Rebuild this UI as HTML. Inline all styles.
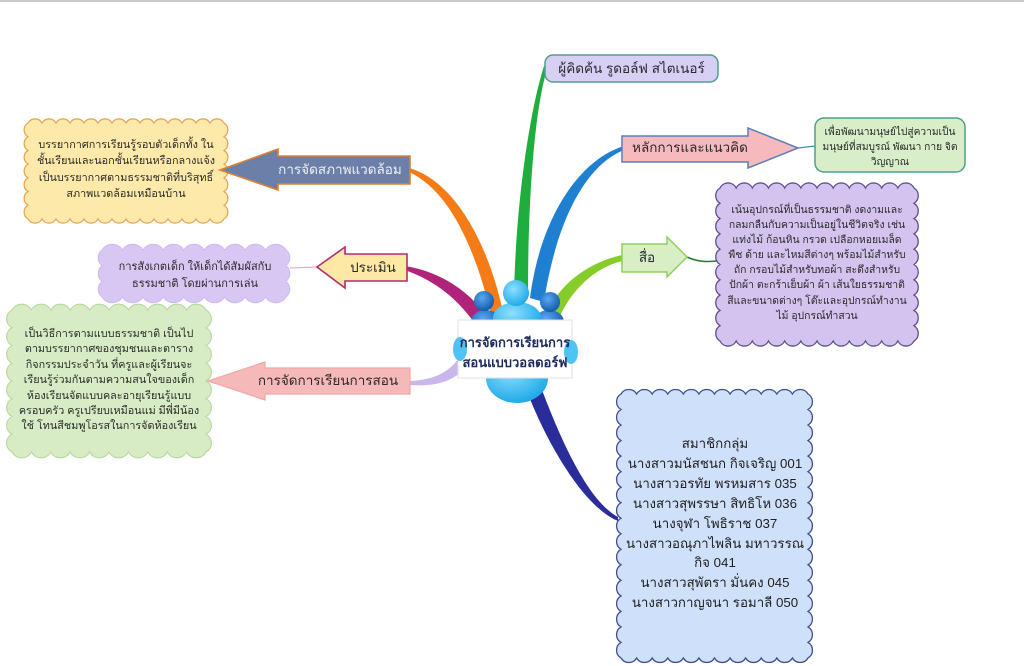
<!DOCTYPE html>
<html>
<head>
<meta charset="utf-8">
<style>
html,body{margin:0;padding:0;background:#fff;}
body{width:1024px;height:666px;position:relative;overflow:hidden;font-family:"Liberation Sans","DejaVu Sans","Noto Sans CJK SC",sans-serif;}
svg{position:absolute;left:0;top:0;}
.t{position:absolute;text-align:center;white-space:nowrap;color:#2a2a2a;}
</style>
</head>
<body>
<svg width="1024" height="666" viewBox="0 0 1024 666">
<defs>
<radialGradient id="gl" cx="0.4" cy="0.35" r="0.7">
<stop offset="0" stop-color="#8fe0ff"/><stop offset="1" stop-color="#19a6e6"/>
</radialGradient>
<radialGradient id="gd" cx="0.4" cy="0.35" r="0.7">
<stop offset="0" stop-color="#5aa8f0"/><stop offset="1" stop-color="#0f55a8"/>
</radialGradient>
</defs>
<rect x="0" y="0" width="1024" height="2" fill="#c9c9c9"/>

<!-- branches -->
<path d="M409,168 C452,180 487,238 503,312 L491,314 C474,244 448,190 409,172 Z" fill="#f47b16"/>
<path d="M405,266 C442,272 470,292 488,318 L477,326 C458,300 438,282 405,270 Z" fill="#b0237a"/>
<path d="M410,381 C436,380 452,370 460,356 L466,366 C456,380 438,387 410,385 Z" fill="#c9b6ea"/>
<path d="M544,66 C530,110 516,200 514,295 L528,295 C528,200 534,110 548,66 Z" fill="#1fae3e"/>
<path d="M624,146 C578,160 540,220 530,298 L544,302 C556,224 584,166 624,150 Z" fill="#1f80d2"/>
<path d="M622,255 C590,262 562,282 548,310 L560,316 C572,290 594,268 622,261 Z" fill="#86cc2a"/>
<path d="M528,394 C550,450 586,508 618,521 L618,517 C590,502 564,448 542,390 Z" fill="#2b2c9c"/>

<!-- connectors -->
<path d="M290,268 L318,267" stroke="#f0a8c8" stroke-width="1.3" fill="none"/>
<path d="M798,148 L815,146" stroke="#3d8fb0" stroke-width="1.3" fill="none"/>
<path d="M687,257 C698,262 706,262 717,261" stroke="#2a7a3a" stroke-width="1.6" fill="none"/>

<!-- yellow scalloped box -->
<path fill="#fde9a9" stroke="#e8a050" stroke-width="1.2" d="M28,123
a8 8 0 0 1 14 0 a8 8 0 0 1 14 0 a8 8 0 0 1 14 0 a8 8 0 0 1 14 0 a8 8 0 0 1 14 0 a8 8 0 0 1 14 0 a8 8 0 0 1 14 0
a8 8 0 0 1 14 0 a8 8 0 0 1 14 0 a8 8 0 0 1 14 0 a8 8 0 0 1 14 0 a8 8 0 0 1 14 0 a8 8 0 0 1 14 0 a8 8 0 0 1 14 0
a8 8 0 0 1 0 13.714 a8 8 0 0 1 0 13.714 a8 8 0 0 1 0 13.714 a8 8 0 0 1 0 13.714 a8 8 0 0 1 0 13.714 a8 8 0 0 1 0 13.714 a8 8 0 0 1 0 13.714
a8 8 0 0 1 -14 0 a8 8 0 0 1 -14 0 a8 8 0 0 1 -14 0 a8 8 0 0 1 -14 0 a8 8 0 0 1 -14 0 a8 8 0 0 1 -14 0 a8 8 0 0 1 -14 0
a8 8 0 0 1 -14 0 a8 8 0 0 1 -14 0 a8 8 0 0 1 -14 0 a8 8 0 0 1 -14 0 a8 8 0 0 1 -14 0 a8 8 0 0 1 -14 0 a8 8 0 0 1 -14 0
a8 8 0 0 1 0 -13.714 a8 8 0 0 1 0 -13.714 a8 8 0 0 1 0 -13.714 a8 8 0 0 1 0 -13.714 a8 8 0 0 1 0 -13.714 a8 8 0 0 1 0 -13.714 a8 8 0 0 1 0 -13.714 Z"/>

<!-- small purple scalloped box -->
<path fill="#d9c7f3" stroke="#cdb8ef" stroke-width="1" d="M102,250
a12 12 0 0 1 20.444 0 a12 12 0 0 1 20.444 0 a12 12 0 0 1 20.444 0 a12 12 0 0 1 20.444 0 a12 12 0 0 1 20.444 0
a12 12 0 0 1 20.444 0 a12 12 0 0 1 20.444 0 a12 12 0 0 1 20.444 0 a12 12 0 0 1 20.444 0
a10 10 0 0 1 0 15.667 a10 10 0 0 1 0 15.667 a10 10 0 0 1 0 15.667
a12 12 0 0 1 -20.444 0 a12 12 0 0 1 -20.444 0 a12 12 0 0 1 -20.444 0 a12 12 0 0 1 -20.444 0 a12 12 0 0 1 -20.444 0
a12 12 0 0 1 -20.444 0 a12 12 0 0 1 -20.444 0 a12 12 0 0 1 -20.444 0 a12 12 0 0 1 -20.444 0
a10 10 0 0 1 0 -15.667 a10 10 0 0 1 0 -15.667 a10 10 0 0 1 0 -15.667 Z"/>

<!-- green left scalloped box -->
<path fill="#d7ecc5" stroke="#b6d99c" stroke-width="1.2" d="M12,310
a11 11 0 0 1 19.4 0 a11 11 0 0 1 19.4 0 a11 11 0 0 1 19.4 0 a11 11 0 0 1 19.4 0 a11 11 0 0 1 19.4 0
a11 11 0 0 1 19.4 0 a11 11 0 0 1 19.4 0 a11 11 0 0 1 19.4 0 a11 11 0 0 1 19.4 0 a11 11 0 0 1 19.4 0
a10 10 0 0 1 0 17.75 a10 10 0 0 1 0 17.75 a10 10 0 0 1 0 17.75 a10 10 0 0 1 0 17.75
a10 10 0 0 1 0 17.75 a10 10 0 0 1 0 17.75 a10 10 0 0 1 0 17.75 a10 10 0 0 1 0 17.75
a11 11 0 0 1 -19.4 0 a11 11 0 0 1 -19.4 0 a11 11 0 0 1 -19.4 0 a11 11 0 0 1 -19.4 0 a11 11 0 0 1 -19.4 0
a11 11 0 0 1 -19.4 0 a11 11 0 0 1 -19.4 0 a11 11 0 0 1 -19.4 0 a11 11 0 0 1 -19.4 0 a11 11 0 0 1 -19.4 0
a10 10 0 0 1 0 -17.75 a10 10 0 0 1 0 -17.75 a10 10 0 0 1 0 -17.75 a10 10 0 0 1 0 -17.75
a10 10 0 0 1 0 -17.75 a10 10 0 0 1 0 -17.75 a10 10 0 0 1 0 -17.75 a10 10 0 0 1 0 -17.75 Z"/>

<!-- purple right scalloped box -->
<path fill="#d4c3ee" stroke="#5b4e8e" stroke-width="1.3" d="M720,188
a9 9 0 0 1 16.167 0 a9 9 0 0 1 16.167 0 a9 9 0 0 1 16.167 0 a9 9 0 0 1 16.167 0 a9 9 0 0 1 16.167 0 a9 9 0 0 1 16.167 0
a9 9 0 0 1 16.167 0 a9 9 0 0 1 16.167 0 a9 9 0 0 1 16.167 0 a9 9 0 0 1 16.167 0 a9 9 0 0 1 16.167 0 a9 9 0 0 1 16.167 0
a9 9 0 0 1 0 15.3 a9 9 0 0 1 0 15.3 a9 9 0 0 1 0 15.3 a9 9 0 0 1 0 15.3 a9 9 0 0 1 0 15.3
a9 9 0 0 1 0 15.3 a9 9 0 0 1 0 15.3 a9 9 0 0 1 0 15.3 a9 9 0 0 1 0 15.3 a9 9 0 0 1 0 15.3
a9 9 0 0 1 -16.167 0 a9 9 0 0 1 -16.167 0 a9 9 0 0 1 -16.167 0 a9 9 0 0 1 -16.167 0 a9 9 0 0 1 -16.167 0 a9 9 0 0 1 -16.167 0
a9 9 0 0 1 -16.167 0 a9 9 0 0 1 -16.167 0 a9 9 0 0 1 -16.167 0 a9 9 0 0 1 -16.167 0 a9 9 0 0 1 -16.167 0 a9 9 0 0 1 -16.167 0
a9 9 0 0 1 0 -15.3 a9 9 0 0 1 0 -15.3 a9 9 0 0 1 0 -15.3 a9 9 0 0 1 0 -15.3 a9 9 0 0 1 0 -15.3
a9 9 0 0 1 0 -15.3 a9 9 0 0 1 0 -15.3 a9 9 0 0 1 0 -15.3 a9 9 0 0 1 0 -15.3 a9 9 0 0 1 0 -15.3 Z"/>

<!-- light blue scalloped box -->
<path fill="#cfe0fa" stroke="#3e4f8c" stroke-width="1.3" d="M621,394
a9 9 0 0 1 15.583 0 a9 9 0 0 1 15.583 0 a9 9 0 0 1 15.583 0 a9 9 0 0 1 15.583 0 a9 9 0 0 1 15.583 0 a9 9 0 0 1 15.583 0
a9 9 0 0 1 15.583 0 a9 9 0 0 1 15.583 0 a9 9 0 0 1 15.583 0 a9 9 0 0 1 15.583 0 a9 9 0 0 1 15.583 0 a9 9 0 0 1 15.583 0
a9 9 0 0 1 0 15.529 a9 9 0 0 1 0 15.529 a9 9 0 0 1 0 15.529 a9 9 0 0 1 0 15.529 a9 9 0 0 1 0 15.529 a9 9 0 0 1 0 15.529
a9 9 0 0 1 0 15.529 a9 9 0 0 1 0 15.529 a9 9 0 0 1 0 15.529 a9 9 0 0 1 0 15.529 a9 9 0 0 1 0 15.529 a9 9 0 0 1 0 15.529
a9 9 0 0 1 0 15.529 a9 9 0 0 1 0 15.529 a9 9 0 0 1 0 15.529 a9 9 0 0 1 0 15.529 a9 9 0 0 1 0 15.529
a9 9 0 0 1 -15.583 0 a9 9 0 0 1 -15.583 0 a9 9 0 0 1 -15.583 0 a9 9 0 0 1 -15.583 0 a9 9 0 0 1 -15.583 0 a9 9 0 0 1 -15.583 0
a9 9 0 0 1 -15.583 0 a9 9 0 0 1 -15.583 0 a9 9 0 0 1 -15.583 0 a9 9 0 0 1 -15.583 0 a9 9 0 0 1 -15.583 0 a9 9 0 0 1 -15.583 0
a9 9 0 0 1 0 -15.529 a9 9 0 0 1 0 -15.529 a9 9 0 0 1 0 -15.529 a9 9 0 0 1 0 -15.529 a9 9 0 0 1 0 -15.529 a9 9 0 0 1 0 -15.529
a9 9 0 0 1 0 -15.529 a9 9 0 0 1 0 -15.529 a9 9 0 0 1 0 -15.529 a9 9 0 0 1 0 -15.529 a9 9 0 0 1 0 -15.529 a9 9 0 0 1 0 -15.529
a9 9 0 0 1 0 -15.529 a9 9 0 0 1 0 -15.529 a9 9 0 0 1 0 -15.529 a9 9 0 0 1 0 -15.529 a9 9 0 0 1 0 -15.529 Z"/>

<!-- arrows -->
<polygon points="220,170 278,149 278,156 410,156 410,184 278,184 278,190" fill="#6b7fa8" stroke="#e08030" stroke-width="1.6"/>
<polygon points="317,267 345,247 345,254 407,254 407,281 345,281 345,288" fill="#fde8a6" stroke="#b02d6e" stroke-width="1.6"/>
<polygon points="208,381 265,362 265,368 410,368 410,394 265,394 265,400" fill="#f6b9b9" stroke="#f2a6a6" stroke-width="1.2"/>
<polygon points="622,136 748,136 748,128 798,148 748,168 748,162 622,162" fill="#f6b9bd" stroke="#5b80b5" stroke-width="1.5"/>
<polygon points="622,244 667,244 667,237 687,257 667,277 667,272 622,272" fill="#d8efc5" stroke="#8fcf5f" stroke-width="1.5"/>

<!-- rounded boxes -->
<rect x="545" y="55" width="173" height="27" rx="8" fill="#d8cff5" stroke="#4f9e90" stroke-width="1.5"/>
<rect x="815" y="118" width="150" height="54" rx="9" fill="#d8eec8" stroke="#4f9e90" stroke-width="1.5"/>

<!-- central figure -->
<ellipse cx="486" cy="322" rx="15" ry="12" fill="url(#gd)"/>
<ellipse cx="549" cy="322" rx="15" ry="12" fill="url(#gd)"/>
<ellipse cx="517" cy="318" rx="24" ry="16" fill="url(#gl)"/>
<circle cx="484" cy="301" r="10" fill="url(#gd)"/>
<circle cx="550" cy="302" r="10" fill="url(#gd)"/>
<circle cx="516" cy="293" r="13" fill="url(#gl)"/>
<ellipse cx="517" cy="378" rx="31" ry="25" fill="url(#gl)"/>
<rect x="458" y="320" width="114" height="58" fill="#ffffff" stroke="#e0e0e0" stroke-width="1"/>
<ellipse cx="460" cy="349" rx="7" ry="12" fill="#4fc3f3"/>
<ellipse cx="571" cy="352" rx="7" ry="12" fill="#4fc3f3"/>
</svg>

<!-- arrow and box labels -->
<div class="t" style="left:265px;top:161px;width:150px;font-size:13.5px;line-height:18px;color:#eef0f6;">การจัดสภาพแวดล้อม</div>
<div class="t" style="left:337px;top:259px;width:72px;font-size:13.5px;line-height:18px;">ประเมิน</div>
<div class="t" style="left:248px;top:372px;width:160px;font-size:13.5px;line-height:18px;">การจัดการเรียนการสอน</div>
<div class="t" style="left:618px;top:139px;width:144px;font-size:13.5px;line-height:18px;">หลักการและแนวคิด</div>
<div class="t" style="left:622px;top:249px;width:50px;font-size:13.5px;line-height:18px;">สื่อ</div>
<div class="t" style="left:545px;top:60px;width:173px;font-size:13.5px;line-height:18px;">ผู้คิดค้น รูดอล์ฟ สไตเนอร์</div>

<div class="t" style="left:440px;top:333px;width:150px;font-size:13px;line-height:20px;font-weight:bold;color:#1e2a5a;">การจัดการเรียนการ<br>สอนแบบวอลดอร์ฟ</div>

<div class="t" style="left:26px;top:137px;width:200px;font-size:10.8px;line-height:16.3px;">บรรยากาศการเรียนรู้รอบตัวเด็กทั้ง ใน<br>ชั้นเรียนและนอกชั้นเรียนหรือกลางแจ้ง<br>เป็นบรรยากาศตามธรรมชาติที่บริสุทธิ์<br>สภาพแวดล้อมเหมือนบ้าน</div>

<div class="t" style="left:95px;top:259px;width:200px;font-size:11px;line-height:17px;">การสังเกตเด็ก ให้เด็กได้สัมผัสกับ<br>ธรรมชาติ โดยผ่านการเล่น</div>

<div class="t" style="left:9px;top:327px;width:200px;font-size:10.8px;line-height:15.4px;">เป็นวิธีการตามแบบธรรมชาติ เป็นไป<br>ตามบรรยากาศของชุมชนและตาราง<br>กิจกรรมประจำวัน ที่ครูและผู้เรียนจะ<br>เรียนรู้ร่วมกันตามความสนใจของเด็ก<br>ห้องเรียนจัดแบบคละอายุเรียนรู้แบบ<br>ครอบครัว ครูเปรียบเหมือนแม่ มีพี่มีน้อง<br>ใช้ โทนสีชมพูโอรสในการจัดห้องเรียน</div>

<div class="t" style="left:815px;top:125px;width:150px;font-size:10.2px;line-height:15px;">เพื่อพัฒนามนุษย์ไปสู่ความเป็น<br>มนุษย์ที่สมบูรณ์ พัฒนา กาย จิต<br>วิญญาณ</div>

<div class="t" style="left:717px;top:203px;width:200px;font-size:10.4px;line-height:15.1px;">เน้นอุปกรณ์ที่เป็นธรรมชาติ งดงามและ<br>กลมกลืนกับความเป็นอยู่ในชีวิตจริง เช่น<br>แท่งไม้ ก้อนหิน กรวด เปลือกหอยเมล็ด<br>พืช ด้าย และไหมสีต่างๆ พร้อมไม้สำหรับ<br>ถัก กรอบไม้สำหรับทอผ้า สะดึงสำหรับ<br>ปักผ้า ตะกร้าเย็บผ้า ผ้า เส้นใยธรรมชาติ<br>สีและขนาดต่างๆ โต๊ะและอุปกรณ์ทำงาน<br>ไม้ อุปกรณ์ทำสวน</div>

<div class="t" style="left:615px;top:434px;width:200px;font-size:13.3px;line-height:19.9px;color:#222;">สมาชิกกลุ่ม<br>นางสาวมนัสชนก กิจเจริญ 001<br>นางสาวอรทัย พรหมสาร 035<br>นางสาวสุพรรษา สิทธิโห 036<br>นางจุฬา โพธิราช 037<br>นางสาวอณุภาไพลิน มหาวรรณ<br>กิจ 041<br>นางสาวสุพัตรา มั่นคง 045<br>นางสาวกาญจนา รอมาลี 050</div>
</body>
</html>
